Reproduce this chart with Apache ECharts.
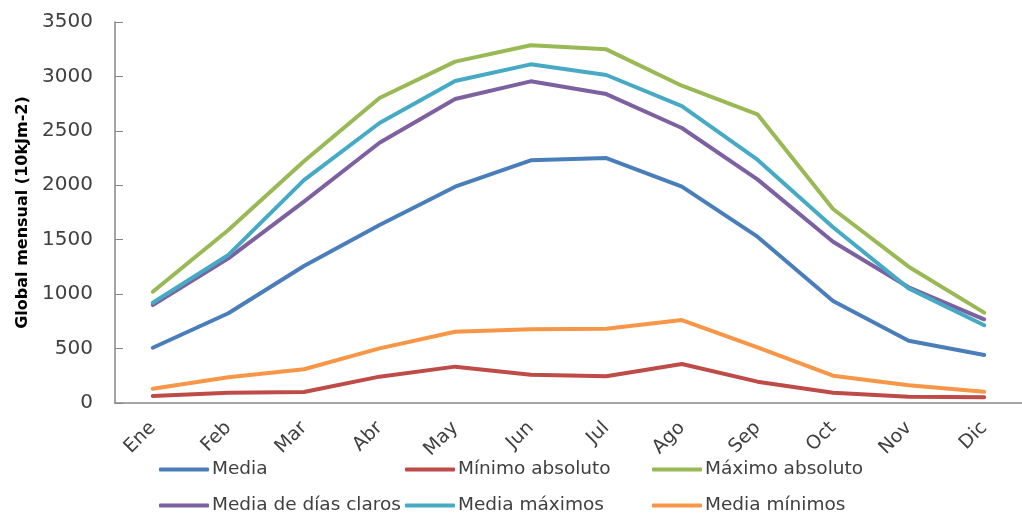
<!DOCTYPE html>
<html>
<head>
<meta charset="utf-8">
<script src="https://cdn.jsdelivr.net/npm/echarts@6/dist/echarts.min.js"></script>
<style>
  html, body { margin: 0; padding: 0; background: #fff; }
  #chart { width: 1022px; height: 518px; }
</style>
</head>
<body>
<div id="chart"></div>
<script>
// meses
var months = ["Ene", "Feb", "Mar", "Abr", "May", "Jun", "Jul", "Ago", "Sep", "Oct", "Nov", "Dic"];

// radiación global mensual (10kJm-2)
var media = [508, 824, 1258, 1635, 1987, 2229, 2250, 1987, 1528, 937, 572, 441];
var minimoAbsoluto = [64, 95, 101, 242, 334, 260, 245, 358, 196, 95, 58, 52];
var maximoAbsoluto = [1022, 1589, 2220, 2802, 3136, 3286, 3249, 2915, 2652, 1782, 1252, 830];
var mediaDiasClaros = [900, 1329, 1849, 2391, 2793, 2955, 2838, 2526, 2054, 1482, 1063, 769];
var mediaMaximos = [921, 1360, 2048, 2572, 2958, 3111, 3013, 2728, 2235, 1614, 1053, 714];
var mediaMinimos = [131, 236, 310, 502, 655, 677, 683, 762, 511, 251, 163, 104];

var yTicks = [0, 500, 1000, 1500, 2000, 2500, 3000, 3500];

var textColor = "#404040";
var axisColor = "#868686";
var font = "DejaVu Sans";

function line(name, data, color) {
  return {
    name: name,
    type: "line",
    data: data,
    symbol: "none",
    smooth: false,
    color: color,
    lineStyle: { width: 4, color: color, cap: "round", join: "round" }
  };
}

// one legend per item, laid out like the 3x2 grid of the original
function legendItem(name, left, top) {
  return {
    data: [name],
    left: left,
    top: top,
    padding: 0,
    itemWidth: 50,
    itemHeight: 4,
    itemGap: 4,
    icon: "roundRect",
    textStyle: { fontFamily: font, fontSize: 18.5, color: textColor, padding: [0, 0, 0, -2] }
  };
}

var chart = echarts.init(document.getElementById("chart"));
chart.setOption({
  animation: false,
  backgroundColor: "#fff",
  grid: { left: 115, right: -12, top: 22, bottom: 115, containLabel: false },
  legend: [
    legendItem("Media", 159, 460),
    legendItem("Mínimo absoluto", 405, 460),
    legendItem("Máximo absoluto", 652, 460),
    legendItem("Media de días claros", 159, 496),
    legendItem("Media máximos", 405, 496),
    legendItem("Media mínimos", 652, 496)
  ],
  xAxis: {
    type: "category",
    data: months,
    boundaryGap: true,
    axisLine: { lineStyle: { color: axisColor, width: 1.5 } },
    axisTick: { inside: true, length: 8, lineStyle: { color: axisColor } },
    axisLabel: { rotate: 45, margin: 22, fontFamily: font, fontSize: 19, color: textColor },
    splitLine: { show: false }
  },
  yAxis: {
    type: "value",
    min: yTicks[0],
    max: yTicks[yTicks.length - 1],
    interval: 500,
    name: "Global mensual (10kJm-2)",
    nameLocation: "middle",
    nameGap: 82,
    nameTextStyle: { fontFamily: font, fontSize: 16, fontWeight: "bold", color: "#000" },
    axisLine: { show: true, lineStyle: { color: axisColor, width: 1.5 } },
    axisTick: { show: true, inside: true, length: 8, lineStyle: { color: axisColor } },
    axisLabel: {
      margin: 22, fontFamily: font, fontSize: 20, color: textColor,
      formatter: function (v) { return String(v); }
    },
    splitLine: { show: false }
  },
  series: [
    line("Media", media, "#4A7EBB"),
    line("Mínimo absoluto", minimoAbsoluto, "#BE4B48"),
    line("Máximo absoluto", maximoAbsoluto, "#98B954"),
    line("Media de días claros", mediaDiasClaros, "#7D60A0"),
    line("Media máximos", mediaMaximos, "#46AAC5"),
    line("Media mínimos", mediaMinimos, "#F79646")
  ]
});
</script>
</body>
</html>
